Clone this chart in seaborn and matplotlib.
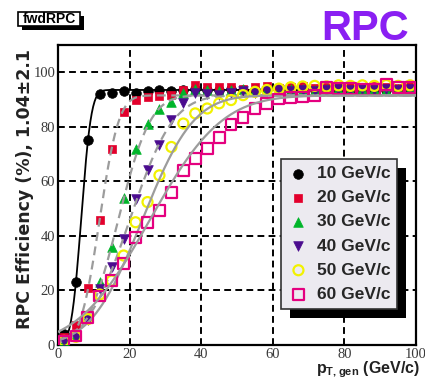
import math
import numpy as np
import matplotlib
matplotlib.use("Agg")
import matplotlib.pyplot as plt
import seaborn as sns
from matplotlib.patches import Rectangle
from matplotlib.ticker import MultipleLocator
from matplotlib.font_manager import FontProperties

# generated transverse momentum bins (GeV/c)
pt_bins = [1.67, 5.0, 8.33, 11.67, 15.0, 18.33, 21.67, 25.0, 28.33, 31.67,
           35.0, 38.33, 41.67, 45.0, 48.33, 51.67, 55.0, 58.33, 61.67, 65.0,
           68.33, 71.67, 75.0, 78.33, 81.67, 85.0, 88.33, 91.67, 95.0, 98.33]

# RPC efficiency (%) per threshold
eff_10 = [4.0, 23.0, 75.0, 92.0, 92.5, 93.0, 92.5, 93.0, 93.5, 93.0,
          93.5, 94.0, 93.5, 93.5, 94.0, 93.5, 93.5, 94.0, 93.5, 93.5,
          94.0, 93.5, 93.5, 94.0, 93.5, 93.5, 94.0, 93.5, 93.5, 94.0]
eff_20 = [3.0, 7.5, 21.0, 46.0, 72.0, 85.5, 90.0, 91.0, 91.4, 91.7,
          93.5, 95.3, 94.7, 94.7, 94.5, 94.0, 94.5, 94.8, 94.3, 94.5,
          94.8, 94.3, 94.5, 94.8, 94.5, 94.3, 94.8, 94.5, 94.3, 94.8]
eff_30 = [2.0, 3.5, 10.7, 23.0, 35.8, 53.9, 72.0, 81.2, 86.7, 89.2,
          92.5, 93.7, 93.5, 93.0, 93.5, 93.8, 93.5, 94.0, 93.5, 93.8,
          94.0, 93.5, 93.8, 94.0, 93.5, 93.8, 94.0, 93.5, 93.8, 94.0]
eff_40 = [1.5, 3.0, 9.0, 20.5, 28.5, 38.9, 53.6, 64.0, 73.3, 82.5,
          88.6, 92.3, 92.0, 91.5, 92.5, 93.0, 92.5, 93.0, 93.5, 93.0,
          93.5, 93.0, 93.5, 93.8, 93.5, 93.8, 93.5, 94.0, 93.5, 93.8]
eff_50 = [1.5, 3.0, 9.5, 18.5, 23.6, 32.8, 45.0, 52.4, 62.2, 72.6,
          81.2, 84.9, 86.7, 88.6, 89.8, 91.6, 92.8, 93.5, 94.0, 94.5,
          94.8, 95.0, 94.8, 95.2, 95.0, 95.2, 95.0, 95.3, 95.0, 95.2]
eff_60 = [1.2, 3.3, 10.0, 18.0, 23.6, 30.0, 39.5, 45.0, 49.3, 56.0,
          64.0, 68.3, 72.0, 76.0, 80.8, 83.5, 86.6, 88.4, 90.2, 90.6,
          90.9, 91.5, 94.5, 94.0, 94.0, 93.8, 93.8, 95.5, 94.5, 94.3]

labels = ["10 GeV/c", "20 GeV/c", "30 GeV/c", "40 GeV/c", "50 GeV/c", "60 GeV/c"]

# error-function turn-on fit parameters: plateau, midpoint, width
fit_plateau = [93.5, 91.5, 91.5, 91.5, 91.5, 91.5]
fit_mid = [6.5, 11.6, 16.8, 20.0, 23.5, 25.6]
fit_width = [3.1, 6.0, 10.0, 13.5, 16.0, 22.4]

series = [eff_10, eff_20, eff_30, eff_40, eff_50, eff_60]
colors = ["black", "#e3002c", "#00b52a", "#4b0c8f", "#f2f200", "#e4007f"]
markers = ["o", "s", "^", "v", "o", "s"]
sizes = [48, 40, 48, 48, 52, 60]
hollow = [False, False, False, False, True, True]
fit_colors = ["black", "#9c9c9c", "#9c9c9c", "#9c9c9c", "#9c9c9c", "#9c9c9c"]
fit_styles = ["-", (0, (4, 2.5)), (0, (4, 2.5)), (0, (4, 2.5)), "-", "-"]

sns.set_style("white")
plt.rcParams["mathtext.fontset"] = "custom"
plt.rcParams["mathtext.bf"] = "Liberation Sans:bold"
plt.rcParams["mathtext.rm"] = "Liberation Sans"

W, H = 425, 381
fig = plt.figure(figsize=(W / 100, H / 100), dpi=100)
ax = fig.add_axes([0.1365, 0.0945, 0.8425, 0.7875])

ax.set_xlim(0, 100)
ax.set_ylim(0, 110)

# dashed grid
for gx in [20, 40, 60, 80]:
    ax.axvline(gx, color="black", lw=1.4, ls=(0, (3.5, 2.2)), zorder=0.5)
for gy in [20, 40, 60, 80, 100]:
    ax.axhline(gy, color="black", lw=1.4, ls=(0, (3.5, 2.2)), zorder=0.5)

xfit = np.linspace(0, 100, 500)
handles = []
for i, vals in enumerate(series):
    sns.scatterplot(x=pt_bins, y=vals, marker=markers[i], s=sizes[i],
                    color=colors[i], edgecolor=colors[i],
                    linewidth=1.6 if hollow[i] else 0.5, ax=ax, zorder=3 + i)
    coll = ax.collections[-1]
    if hollow[i]:
        coll.set_facecolor("none")
    handles.append(coll)
    yfit = [fit_plateau[i] / 2 * (1 + math.erf((x - fit_mid[i]) / fit_width[i])) for x in xfit]
    sns.lineplot(x=xfit, y=yfit, ax=ax, color=fit_colors[i],
                 lw=1.3 if i == 0 else 1.6, linestyle=fit_styles[i], zorder=3 + i)

# axes frame and ticks
for sp in ax.spines.values():
    sp.set_linewidth(1.6)
    sp.set_color("black")
ax.xaxis.set_major_locator(MultipleLocator(20))
ax.xaxis.set_minor_locator(MultipleLocator(5))
ax.yaxis.set_major_locator(MultipleLocator(20))
ax.yaxis.set_minor_locator(MultipleLocator(5))
ax.tick_params(which="both", direction="in", top=False, right=False,
               width=1.5, colors="black")
ax.tick_params(which="major", length=8, pad=2)
ax.tick_params(which="minor", length=5)
tick_font = FontProperties(family="Liberation Serif", size=10.5)
for lab in ax.get_xticklabels() + ax.get_yticklabels():
    lab.set_fontproperties(tick_font)
    lab.set_color("#3a3a3a")

ax.set_ylabel("RPC Efficiency (%), 1.04±2.1", fontsize=12.5, fontweight="bold",
              family="DejaVu Sans", color="#222222")
ax.yaxis.set_label_coords(-0.066, 0.52)
ax.set_xlabel("")
ax.text(1.012, -0.094, r"$\mathbf{p}_{\mathbf{T,gen}}$ (GeV/c)", transform=ax.transAxes,
        ha="right", va="baseline", fontsize=11.5, fontweight="bold",
        family="Liberation Sans", color="#222222")

leg = ax.legend(handles, labels, loc="upper left", bbox_to_anchor=(0.623, 0.62),
                borderaxespad=0, frameon=True, fancybox=False, framealpha=1,
                edgecolor="#333333", facecolor="#eceaf0",
                prop=FontProperties(family="Liberation Sans", weight="bold", size=12.5),
                handlelength=1.2, handletextpad=0.45, labelspacing=0.52,
                borderpad=0.4)
leg.get_frame().set_linewidth(1.2)
leg.set_zorder(20)

# canvas tag: boxed label with a solid drop shadow (figure pixel units)
tag_x0, tag_y0, tag_w, tag_h, shadow = 18, 12, 62, 14, 4
ax.add_patch(Rectangle(((tag_x0 + shadow) / W, 1 - (tag_y0 + tag_h + shadow) / H),
                       tag_w / W, tag_h / H, transform=fig.transFigure,
                       facecolor="black", edgecolor="none", zorder=30, clip_on=False))
ax.add_patch(Rectangle((tag_x0 / W, 1 - (tag_y0 + tag_h) / H), tag_w / W, tag_h / H,
                       transform=fig.transFigure, facecolor="white",
                       edgecolor="black", lw=1.2, zorder=31, clip_on=False))
fig.text((tag_x0 + tag_w / 2) / W, 1 - (tag_y0 + tag_h / 2) / H, "fwdRPC",
         color="black", fontsize=10, fontweight="bold", family="Liberation Sans",
         va="center", ha="center")

fig.text(0.962, 0.895, "RPC", ha="right", va="baseline", fontsize=30,
         fontweight="bold", family="Liberation Sans", color="#8a1ff2")

# drop shadow behind the legend
fig.canvas.draw()
renderer = fig.canvas.get_renderer()
inv = fig.transFigure.inverted()
bb = leg.get_window_extent(renderer).transformed(inv)
ax.add_patch(Rectangle((bb.x0 + 9 / W, bb.y0 - 9 / H), bb.width, bb.height,
                       transform=fig.transFigure, facecolor="black",
                       edgecolor="none", zorder=19, clip_on=False))

fig.savefig("out.png", dpi=100)
